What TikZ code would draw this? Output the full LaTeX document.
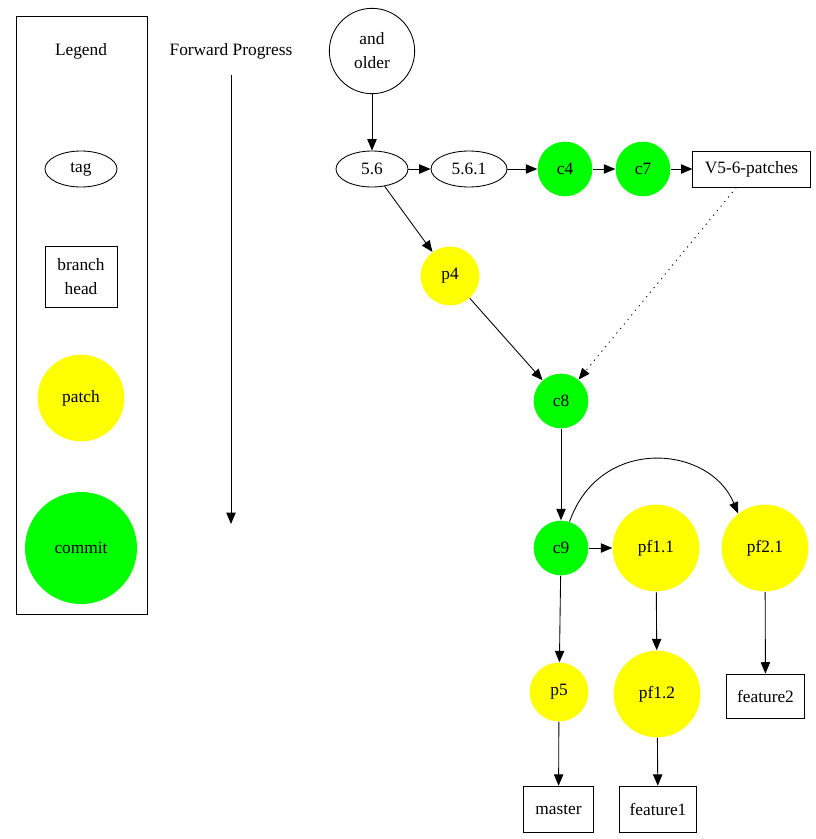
\documentclass[tikz,border=0pt]{standalone}
\usepackage{fontspec}
\setmainfont{Liberation Serif}
\usetikzlibrary{arrows.meta,shapes.geometric}
\definecolor{patchyellow}{RGB}{255,255,0}
\definecolor{commitgreen}{RGB}{0,255,0}
\tikzset{
  tagnode/.style={draw, ellipse, minimum width=54pt, minimum height=27pt, inner sep=0pt},
  headnode/.style={draw, rectangle, align=center, inner sep=0pt},
  patchnode/.style={circle, fill=patchyellow, inner sep=0pt},
  commitnode/.style={circle, fill=commitgreen, inner sep=0pt},
  edge/.style={-{Triangle[length=8.5pt,width=7pt]}, black}
}
\begin{document}
\begin{tikzpicture}[x=0.75pt, y=-0.75pt, line width=0.65pt, font=\fontsize{13}{18}\selectfont]
\useasboundingbox (0,0) rectangle (816,839);
% legend
\draw (16,16) rectangle (147,614);
\node (legend) at (81,51) {Legend};
\node[tagnode] (ltag) at (81,169) {tag};
\node[headnode, minimum width=54pt, minimum height=46pt] (lhead) at (81,277) {branch\\head};
\node[patchnode, minimum size=65pt] (lpatch) at (81,398) {patch};
\node[commitnode, minimum size=84pt] (lcommit) at (81,548) {commit};
% progress arrow
\node (fwd) at (231,51) {Forward Progress};
\coordinate (fwdstart) at (231,75);
\coordinate (fwdend) at (231,524);
\draw[edge] (fwdstart) -- (fwdend);
% history
\node[draw, circle, minimum size=64pt, inner sep=0pt, align=center] (older) at (372,51) {and\\older};
\node[tagnode] (t56) at (372,169) {5.6};
\node[tagnode, minimum width=57pt] (t561) at (469,169) {5.6.1};
\node[commitnode, minimum size=41pt] (c4) at (565,169) {c4};
\node[commitnode, minimum size=41pt] (c7) at (643,169) {c7};
\node[headnode, minimum width=88pt, minimum height=27pt] (v56) at (751.5,169) {V5-6-patches};
\node[patchnode, minimum size=44pt] (p4) at (450,276) {p4};
\node[commitnode, minimum size=41pt] (c8) at (561,401) {c8};
\node[commitnode, minimum size=41pt] (c9) at (561,548) {c9};
\node[patchnode, minimum size=65pt] (pf11) at (656,548) {pf1.1};
\node[patchnode, minimum size=65pt] (pf21) at (765,548) {pf2.1};
\node[patchnode, minimum size=44pt] (p5) at (559,692) {p5};
\node[patchnode, minimum size=65pt] (pf12) at (657,694) {pf1.2};
\node[headnode, minimum width=59pt, minimum height=33pt] (feat2) at (765.5,696) {feature2};
\node[headnode, minimum width=53pt, minimum height=35pt] (master) at (558.5,809.5) {master};
\node[headnode, minimum width=58pt, minimum height=35pt] (feat1) at (658,809.5) {feature1};
% edges
\draw[edge] (older) -- (t56);
\draw[edge] (t56) -- (t561);
\draw[edge] (t561) -- (c4);
\draw[edge] (c4) -- (c7);
\draw[edge] (c7) -- (v56);
\draw[edge] (t56) -- (p4);
\draw[edge] (p4) -- (c8);
\draw[edge, dash pattern=on 0.9pt off 3.5pt] (v56) -- (c8);
\draw[edge] (c8) -- (c9);
\draw[edge] (c9) -- (pf11);
\draw[edge] (c9.72) .. controls (600,435) and (710,445) .. (pf21.128);
\draw[edge] (c9) -- (p5);
\draw[edge] (pf11) -- (pf12);
\draw[edge] (pf21) -- (feat2);
\draw[edge] (p5) -- (master);
\draw[edge] (pf12) -- (feat1);
\end{tikzpicture}
\end{document}
